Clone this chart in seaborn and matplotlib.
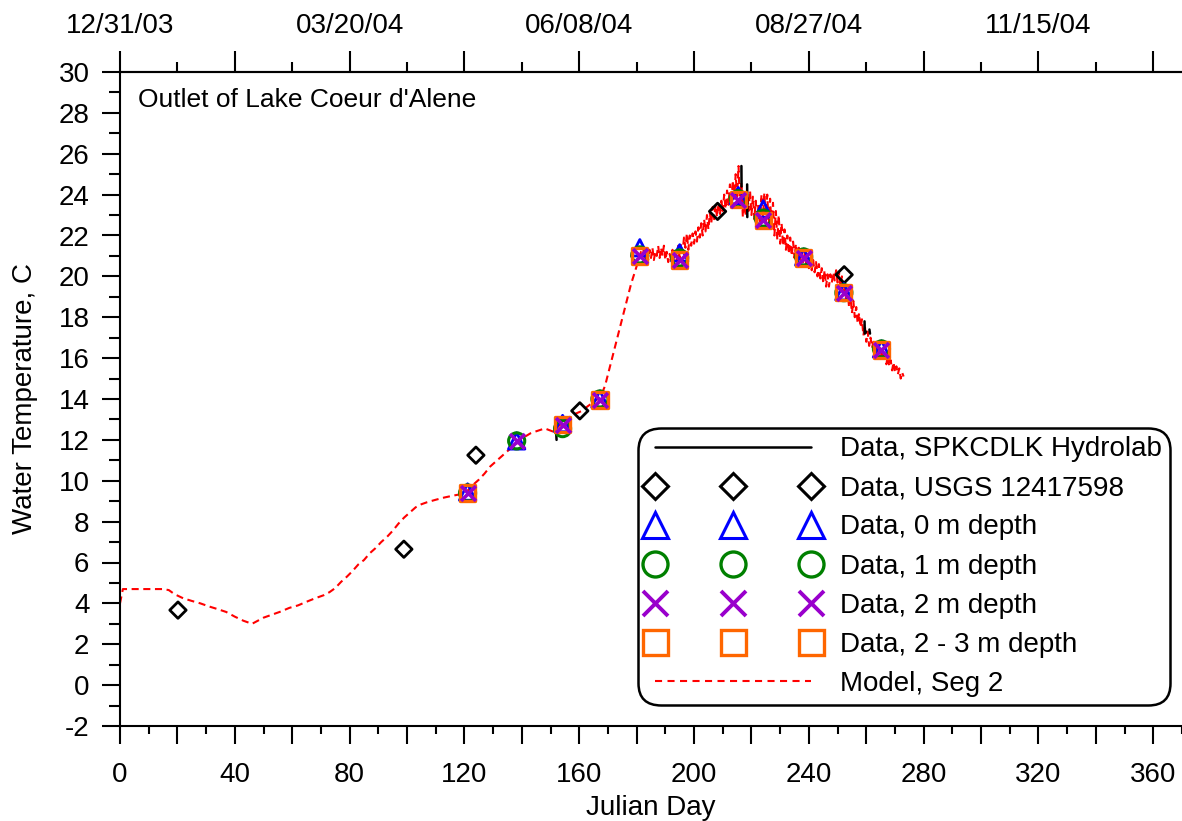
import numpy as np
import pandas as pd
import matplotlib
matplotlib.use("Agg")
import matplotlib.pyplot as plt
from matplotlib.lines import Line2D
from matplotlib.ticker import MultipleLocator, FuncFormatter
import seaborn as sns

sns.set_style("white")
plt.rcParams["font.family"] = ["Liberation Sans", "DejaVu Sans"]
plt.rcParams["axes.unicode_minus"] = False
for key in ["text.color", "axes.labelcolor", "xtick.color", "ytick.color", "axes.edgecolor"]:
    plt.rcParams[key] = "black"

# ---- Model, Seg 2 : smooth spring portion (Julian day, deg C) ----
model_day_smooth = [0, 1, 5, 10, 15, 17, 19, 22, 25, 28, 31, 34, 37, 40, 43, 45, 46,
                    48, 50, 53, 56, 59, 62, 65, 68, 71, 73, 75, 77, 79, 81, 83, 85,
                    87, 89, 91, 93, 95, 97, 99, 101, 103, 105, 107, 110, 113, 116,
                    119, 121, 123, 125, 127, 129, 131, 133, 135, 137, 139, 141, 143,
                    145, 148, 150, 151, 153, 155, 157, 159, 161, 163, 165, 167, 168,
                    169, 170, 172, 174, 176, 178, 180]
model_temp_smooth = [4.0, 4.7, 4.7, 4.7, 4.7, 4.65, 4.45, 4.25, 4.12, 4.0, 3.85, 3.72,
                     3.58, 3.35, 3.15, 3.05, 3.0, 3.15, 3.3, 3.45, 3.6, 3.78, 3.9, 4.08,
                     4.25, 4.4, 4.55, 4.75, 5.05, 5.3, 5.58, 5.9, 6.12, 6.45, 6.7, 7.0,
                     7.25, 7.55, 7.9, 8.2, 8.45, 8.7, 8.85, 8.95, 9.07, 9.18, 9.27, 9.35,
                     9.5, 9.8, 10.05, 10.35, 10.7, 10.95, 11.2, 11.45, 11.7, 11.9, 12.15,
                     12.32, 12.42, 12.56, 12.45, 12.4, 12.7, 12.9, 13.15, 13.3, 13.42,
                     13.65, 13.85, 14.05, 14.3, 14.65, 15.2, 16.3, 17.4, 18.5, 19.6, 20.5]

# ---- Model, Seg 2 : summer/fall portion with diurnal swing ----
# day, night-time low, afternoon high
summer_day = list(range(181, 273))
summer_low = [20.9, 21.0, 20.9, 20.8, 20.9, 20.8, 21.0, 20.9, 21.0, 20.8,
              20.7, 20.8, 20.7, 20.8, 20.9, 21.2, 21.4, 21.3, 21.5, 21.6,
              21.7, 21.9, 22.0, 22.2, 22.3, 22.6, 22.8, 22.9, 23.0, 23.2,
              23.3, 23.5, 23.6, 23.8, 23.9, 23.4, 22.9, 23.0, 23.2, 23.0,
              22.8, 22.6, 22.7, 22.9, 22.7, 22.5, 22.3, 22.0, 21.8, 21.6,
              21.5, 21.3, 21.1, 21.0, 20.9, 20.8, 20.8, 20.7, 20.6, 20.4,
              20.3, 20.2, 20.0, 19.9, 19.7, 19.5, 19.5, 19.7, 19.8, 19.7,
              19.5, 19.1, 18.8, 18.5, 18.2, 18.0, 17.7, 17.5, 17.1, 16.8,
              16.6, 16.5, 16.3, 16.2, 16.0, 15.9, 15.7, 15.6, 15.4, 15.3,
              15.2, 15.0]
summer_high = [21.2, 21.3, 21.2, 21.3, 21.4, 21.2, 21.5, 21.4, 21.5, 21.2,
               21.1, 21.3, 21.2, 21.5, 21.6, 21.9, 22.1, 22.0, 22.1, 22.2,
               22.4, 22.6, 22.8, 23.0, 23.1, 23.4, 23.5, 23.6, 23.7, 24.0,
               24.2, 24.5, 24.7, 25.0, 25.4, 24.6, 23.8, 24.1, 24.2, 23.9,
               23.7, 23.6, 24.0, 24.1, 24.0, 23.8, 23.6, 23.2, 23.0, 22.6,
               22.3, 22.0, 21.9, 21.7, 21.6, 21.4, 21.3, 21.2, 21.1, 20.9,
               20.8, 20.7, 20.6, 20.4, 20.3, 20.1, 20.1, 20.2, 20.3, 20.2,
               20.0, 19.6, 19.3, 19.0, 18.8, 18.5, 18.2, 17.9, 17.6, 17.3,
               17.0, 16.8, 16.6, 16.5, 16.4, 16.2, 16.1, 15.9, 15.8, 15.6,
               15.5, 15.3]
model_last_day, model_last_temp = 273, 15.1

# ---- Data, SPKCDLK Hydrolab (short visible segments) ----
hydro_day = [151.9, 152.1, 216.5, 216.55, 218.5, 218.55, 259.4, 259.5, 259.9, 261.1, 261.3]
hydro_temp = [12.5, 12.0, 25.4, 24.4, 24.5, 22.9, 17.8, 17.2, 17.3, 17.4, 17.2]
hydro_seg = [0, 0, 1, 1, 2, 2, 3, 3, 3, 4, 4]

# ---- Data, USGS 12417598 ----
usgs_day = [20.2, 98.9, 124.0, 160.2, 208.2, 252.3]
usgs_temp = [3.67, 6.65, 11.25, 13.42, 23.18, 20.08]

# ---- Profile data at the outlet ----
depth_day = [121.1, 138.2, 154.2, 167.2, 181.1, 195.0, 215.4, 224.1, 238.2, 252.2, 265.3]
temp_0m = [9.45, 11.95, 12.8, 14.0, 21.4, 21.15, 23.95, 23.3, 20.95, 19.25, 16.45]
temp_1m = [9.4, 11.95, 12.55, 14.0, 21.05, 20.9, 23.8, 22.85, 20.95, 19.2, 16.45]
temp_2m = [9.4, 11.95, 12.75, 13.95, 21.0, 20.8, 23.75, 22.75, 20.9, 19.2, 16.4]
day_23m = [121.1, 154.2, 167.2, 181.1, 195.0, 215.4, 224.1, 238.2, 252.2, 265.3]
temp_23m = [9.4, 12.75, 13.95, 21.0, 20.8, 23.75, 22.75, 20.9, 19.2, 16.4]

# top axis date labels (Julian day -> date)
top_ticks = [0, 80, 160, 240, 320]
top_labels = ["12/31/03", "03/20/04", "06/08/04", "08/27/04", "11/15/04"]

title_text = "Outlet of Lake Coeur d'Alene"

RED = "#FF0000"
BLUE = "#0000FF"
GREEN = "#008000"
PURPLE = "#9900CC"
ORANGE = "#FF6600"

# assemble model series
md, mt = list(model_day_smooth), list(model_temp_smooth)
for d, lo, hi in zip(summer_day, summer_low, summer_high):
    md += [d, d + 0.5]
    mt += [lo, hi]
md.append(model_last_day)
mt.append(model_last_temp)
model = pd.DataFrame({"day": md, "temp": mt})
hydro = pd.DataFrame({"day": hydro_day, "temp": hydro_temp, "seg": hydro_seg})

fig = plt.figure(figsize=(11.82, 8.21), dpi=100)
ax = fig.add_axes([120 / 1182, 95 / 821, 1062 / 1182, 654 / 821])

sns.lineplot(data=model, x="day", y="temp", ax=ax, color=RED, lw=1.5,
             estimator=None, sort=False, dashes=False, zorder=2)
ax.lines[-1].set_dashes((3.4, 2.2))
ax.lines[-1].set_clip_on(False)
sns.lineplot(data=hydro, x="day", y="temp", units="seg", estimator=None, sort=False,
             ax=ax, color="black", lw=1.8, zorder=3)

sns.scatterplot(x=usgs_day, y=usgs_temp, ax=ax, marker="D", s=70,
                facecolor="none", edgecolor="black", linewidth=2, zorder=4)
sns.scatterplot(x=depth_day, y=temp_0m, ax=ax, marker="^", s=140,
                facecolor="none", edgecolor=BLUE, linewidth=2, zorder=4)
sns.scatterplot(x=depth_day, y=temp_1m, ax=ax, marker="o", s=135,
                facecolor="none", edgecolor=GREEN, linewidth=2.2, zorder=4)
sns.scatterplot(x=day_23m, y=temp_23m, ax=ax, marker="s", s=120,
                facecolor="none", edgecolor=ORANGE, linewidth=2.4, zorder=5)
sns.scatterplot(x=depth_day, y=temp_2m, ax=ax, marker="x", s=115,
                color=PURPLE, linewidth=2.6, zorder=6)

ax.set_xlim(0, 370)
ax.set_ylim(-2, 30)

# bottom axis
ax.xaxis.set_major_locator(MultipleLocator(20))
ax.xaxis.set_minor_locator(MultipleLocator(10))
ax.xaxis.set_major_formatter(FuncFormatter(lambda v, p: f"{v:.0f}" if round(v) % 40 == 0 else ""))
ax.yaxis.set_major_locator(MultipleLocator(2))
ax.yaxis.set_minor_locator(MultipleLocator(1))
ax.yaxis.set_major_formatter(FuncFormatter(lambda v, p: f"{v:.0f}"))
ax.tick_params(axis="x", which="major", direction="out", length=13, width=1.5,
               pad=13, labelsize=20, bottom=True, top=False, colors="black")
ax.tick_params(axis="x", which="minor", direction="out", length=6, width=1.5,
               bottom=True, top=False, colors="black")
ax.tick_params(axis="y", which="major", direction="out", length=13, width=1.5,
               pad=9, labelsize=20, left=True, right=False, colors="black")
ax.tick_params(axis="y", which="minor", direction="out", length=8, width=1.5,
               left=True, right=False, colors="black")

for side in ["left", "bottom", "top"]:
    ax.spines[side].set_visible(True)
    ax.spines[side].set_linewidth(1.5)
    ax.spines[side].set_color("black")
ax.spines["right"].set_visible(False)

# top date axis
top = ax.secondary_xaxis("top")
top.xaxis.set_major_locator(MultipleLocator(40))
top.xaxis.set_minor_locator(MultipleLocator(20))
label_map = dict(zip(top_ticks, top_labels))
top.xaxis.set_major_formatter(FuncFormatter(lambda v, p: label_map.get(int(round(v)), "")))
top.tick_params(axis="x", which="major", direction="out", length=15, width=1.5,
                pad=9, labelsize=20, colors="black")
top.tick_params(axis="x", which="minor", direction="out", length=7, width=1.5,
                colors="black")
top.spines["top"].set_linewidth(1.5)
top.spines["top"].set_color("black")

ax.set_xlabel("Julian Day", fontsize=20, labelpad=5, color="black")
ax.set_ylabel("Water Temperature, C", fontsize=20, labelpad=15, color="black")
ax.text(0.017, 0.957, title_text, transform=ax.transAxes, fontsize=19,
        ha="left", va="center", color="black")

handles = [
    Line2D([], [], color="black", lw=1.8),
    Line2D([], [], ls="none", marker="D", ms=13, mfc="none", mec="black", mew=2.2),
    Line2D([], [], ls="none", marker="^", ms=19, mfc="none", mec=BLUE, mew=2.2),
    Line2D([], [], ls="none", marker="o", ms=18, mfc="none", mec=GREEN, mew=2.4),
    Line2D([], [], ls="none", marker="x", ms=18, color=PURPLE, mew=2.8),
    Line2D([], [], ls="none", marker="s", ms=18, mfc="none", mec=ORANGE, mew=2.4),
    Line2D([], [], color=RED, lw=1.5, dashes=(3.4, 2.6)),
]
labels = ["Data, SPKCDLK Hydrolab", "Data, USGS 12417598", "Data, 0 m depth",
          "Data, 1 m depth", "Data, 2 m depth", "Data, 2 - 3 m depth", "Model, Seg 2"]
leg = ax.legend(handles, labels, loc="lower right", bbox_to_anchor=(0.9887, 0.0321),
                borderaxespad=0, fontsize=20, numpoints=3, handlelength=6.2,
                handletextpad=0.75, borderpad=0.3, labelspacing=0.47,
                frameon=True, fancybox=True, framealpha=1)
for t in leg.get_texts():
    t.set_color("black")
frame = leg.get_frame()
frame.set_edgecolor("black")
frame.set_linewidth(1.8)
frame.set_boxstyle("round,pad=0,rounding_size=0.8")

fig.savefig("out.png", dpi=100, facecolor="white")
